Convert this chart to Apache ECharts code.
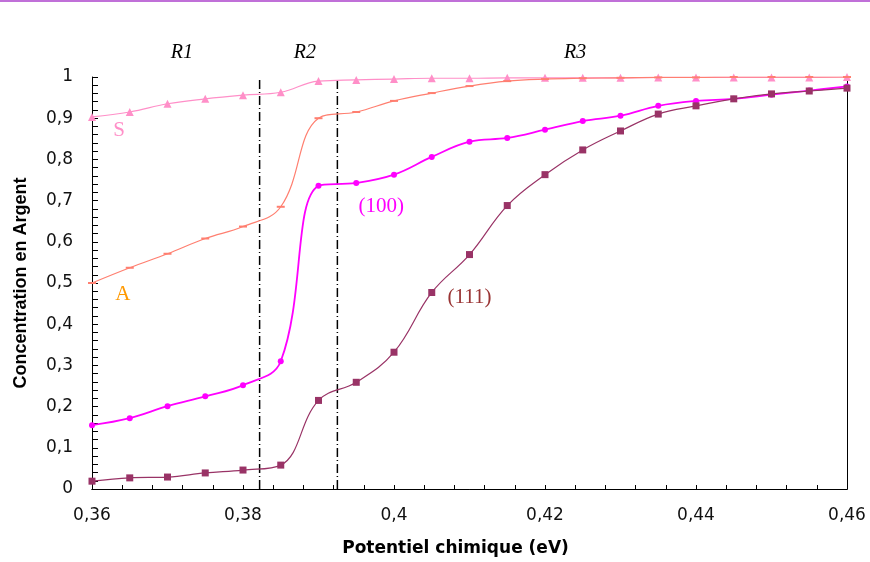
<!DOCTYPE html>
<html>
<head>
<meta charset="utf-8">
<script src="https://cdn.jsdelivr.net/npm/echarts@6/dist/echarts.min.js"></script>
<style>html,body{margin:0;padding:0;background:#fff;}#c{width:870px;height:562px;}</style>
</head>
<body>
<div id="c"></div>
<script>
// Potentiel chimique (eV)
const potentials = [0.36, 0.365, 0.37, 0.375, 0.38, 0.385, 0.39, 0.395, 0.40, 0.405, 0.41,
                    0.415, 0.42, 0.425, 0.43, 0.435, 0.44, 0.445, 0.45, 0.455, 0.46];
// Concentration en Argent
const seriesS   = [0.903, 0.915, 0.935, 0.947, 0.956, 0.963, 0.990, 0.993, 0.995, 0.997, 0.997,
                   0.998, 0.998, 0.998, 0.998, 0.999, 0.999, 0.999, 0.999, 0.999, 1.000];
const seriesA   = [0.500, 0.537, 0.571, 0.608, 0.637, 0.685, 0.900, 0.915, 0.942, 0.961, 0.978,
                   0.990, 0.995, 0.997, 0.998, 0.999, 0.999, 1.000, 1.000, 1.000, 1.000];
const series100 = [0.155, 0.172, 0.201, 0.225, 0.252, 0.310, 0.736, 0.743, 0.763, 0.806, 0.843,
                   0.852, 0.872, 0.893, 0.906, 0.930, 0.942, 0.947, 0.957, 0.967, 0.977];
const series111 = [0.019, 0.027, 0.029, 0.039, 0.046, 0.058, 0.215, 0.259, 0.332, 0.477, 0.569,
                   0.688, 0.763, 0.823, 0.869, 0.910, 0.930, 0.947, 0.959, 0.966, 0.973];
// region boundaries (eV), drawn from y = 0 to y = 1
const regionBounds = [0.3822, 0.3925];
const boundSpan = [0, 1];
// text annotations in data coordinates
const annotationTexts = ['R1', 'R2', 'R3', 'S', 'A', '(100)', '(111)'];
const annotationX     = [0.3719, 0.3882, 0.424, 0.3636, 0.3641, 0.3983, 0.410];
const annotationY     = [1.060, 1.060, 1.060, 0.869, 0.472, 0.685, 0.465];

const fmt = v => String(+v.toFixed(3)).replace('.', ',');
const pairs = ys => potentials.map((x, i) => [x, ys[i]]);

const chart = echarts.init(document.getElementById('c'), null, {renderer: 'canvas'});
const tickFont = {fontFamily: 'DejaVu Sans', fontSize: 17, color: '#111'};
const frameAxis = {
  axisLine: {show: true, lineStyle: {color: '#000', width: 1}},
  axisTick: {show: false}, axisLabel: {show: false}, splitLine: {show: false}
};

const boundSeries = regionBounds.map(x => ({
  type: 'line', data: boundSpan.map(y => [x, y]), symbol: 'none', silent: true, z: 1,
  lineStyle: {color: '#000', width: 1.5, type: [9, 3, 1, 3]}
}));

const option = {
  animation: false,
  backgroundColor: '#fff',
  grid: {left: 92, right: 23, top: 77, bottom: 72},
  xAxis: [{
    type: 'value', min: 0.36, max: 0.46, interval: 0.02,
    name: 'Potentiel chimique (eV)', nameLocation: 'middle', nameGap: 51,
    nameTextStyle: {fontFamily: 'DejaVu Sans', fontWeight: 'bold', fontSize: 17, color: '#000', padding: [0, 28, 0, 0]},
    axisLine: {lineStyle: {color: '#000', width: 1}},
    axisTick: {show: true, inside: true, length: 4, lineStyle: {color: '#000', width: 1}},
    minorTick: {show: true, splitNumber: 5, length: 4, lineStyle: {color: '#000', width: 1}},
    splitLine: {show: false},
    axisLabel: Object.assign({margin: 18, formatter: fmt}, tickFont)
  }, Object.assign({type: 'value', position: 'top', min: 0.36, max: 0.46}, frameAxis)],
  yAxis: [{
    type: 'value', min: 0, max: 1, interval: 0.1,
    name: 'Concentration en Argent', nameLocation: 'middle', nameGap: 62,
    nameTextStyle: {fontFamily: 'Liberation Sans', fontWeight: 'bold', fontSize: 18, color: '#000'},
    axisLine: {show: true, lineStyle: {color: '#000', width: 1}},
    axisTick: {show: true, inside: true, length: 6, lineStyle: {color: '#000', width: 1}},
    minorTick: {show: true, splitNumber: 5, length: 6, lineStyle: {color: '#000', width: 1}},
    splitLine: {show: false},
    axisLabel: Object.assign({margin: 19, formatter: fmt}, tickFont)
  }, Object.assign({type: 'value', position: 'right', min: 0, max: 1}, frameAxis)],
  series: boundSeries.concat([
    {
      name: 'S', type: 'line', data: pairs(seriesS), smooth: 0.4,
      symbol: 'triangle', symbolSize: 8,
      lineStyle: {color: '#ff8fc8', width: 1.2}, itemStyle: {color: '#ff8fc8'}
    },
    {
      name: 'A', type: 'line', data: pairs(seriesA), smooth: 0.4,
      symbol: 'rect', symbolSize: [8, 2],
      lineStyle: {color: '#ff7f70', width: 1.2}, itemStyle: {color: '#ff7f70'}
    },
    {
      name: '(100)', type: 'line', data: pairs(series100), smooth: 0.4,
      symbol: 'circle', symbolSize: 6,
      lineStyle: {color: '#ff00ff', width: 1.8}, itemStyle: {color: '#ff00ff'}
    },
    {
      name: '(111)', type: 'line', data: pairs(series111), smooth: 0.4,
      symbol: 'rect', symbolSize: 7,
      lineStyle: {color: '#993366', width: 1.2}, itemStyle: {color: '#993366'}
    }
  ])
};
chart.setOption(option);

const annColors = ['#000', '#000', '#000', '#ff8fc8', '#ff9900', '#ff00ff', '#993333'];
const annStyles = ['italic', 'italic', 'italic', 'normal', 'normal', 'normal', 'normal'];
const annSizes  = [20, 20, 20, 21, 21, 21, 21];
const graphics = [{
  type: 'rect', left: 0, top: 0, shape: {width: 870, height: 2}, style: {fill: '#c070d8'}
}];
annotationTexts.forEach((t, i) => {
  const p = chart.convertToPixel({xAxisIndex: 0, yAxisIndex: 0}, [annotationX[i], annotationY[i]]);
  graphics.push({
    type: 'text', x: p[0], y: p[1], z: 10,
    style: {
      text: t, fill: annColors[i], align: 'center', verticalAlign: 'middle',
      font: annStyles[i] + ' ' + annSizes[i] + 'px "Liberation Serif", "Times New Roman", serif'
    }
  });
});
chart.setOption({graphic: graphics});
</script>
</body>
</html>
